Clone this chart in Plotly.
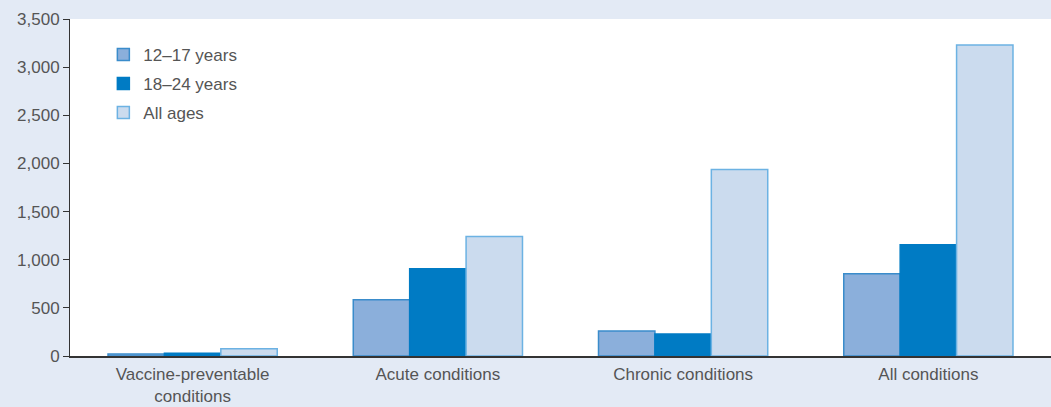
import plotly.graph_objects as go

categories = ['Vaccine-preventable<br>conditions', 'Acute conditions', 'Chronic conditions', 'All conditions']
ages_12_17 = [20, 583, 260, 854]
ages_18_24 = [28, 906, 229, 1156]
all_ages = [75, 1240, 1937, 3229]

series = [
    ('12–17 years', ages_12_17, '#8BAFDB', '#3A8CCB'),
    ('18–24 years', ages_18_24, '#007BC4', '#007BC4'),
    ('All ages', all_ages, '#CBDBEE', '#6CB2E3'),
]

fig = go.Figure()
for name, vals, fill, edge in series:
    fig.add_trace(go.Bar(x=categories, y=vals, name=name, legendgroup=name,
                         marker=dict(color=fill, line=dict(color=edge, width=1.5))))

fig.update_layout(
    width=1051, height=407,
    margin=dict(l=70, r=0, t=19, b=51, autoexpand=False),
    paper_bgcolor='#E3EAF5',
    plot_bgcolor='white',
    barmode='group',
    bargap=0.31,
    bargroupgap=0,
    font=dict(family='Liberation Sans, Arial, sans-serif', size=17, color='#555'),
    legend=dict(x=0.034, y=0.947, xanchor='left', yanchor='top',
                bgcolor='rgba(0,0,0,0)', font=dict(size=17, color='#555'),
                traceorder='grouped', tracegroupgap=4),
    showlegend=True,
)
fig.update_yaxes(range=[0, 3500], dtick=500, tickformat=',', showgrid=False,
                 showline=True, linecolor='#333', linewidth=1,
                 ticks='outside', ticklen=6, tickcolor='#333', zeroline=False,
                 tickfont=dict(size=17, color='#555'))
fig.update_xaxes(showline=True, linecolor='#333', linewidth=1.5, ticks='',
                 ticklabelstandoff=2,
                 tickfont=dict(size=17, color='#555'), showgrid=False)

fig.write_html('out.html', config={'displayModeBar': False},
               post_script="document.body.style.margin='0';")
